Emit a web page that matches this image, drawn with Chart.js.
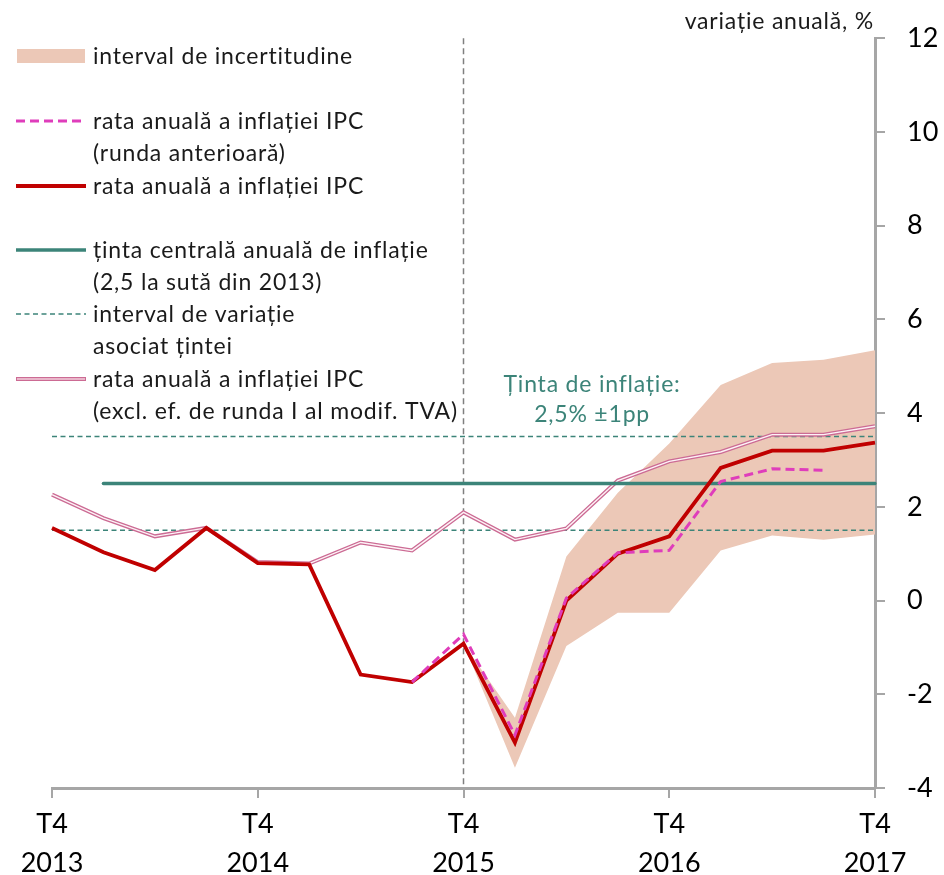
<!DOCTYPE html>
<html>
<head>
<meta charset="utf-8">
<script src="https://cdn.jsdelivr.net/npm/chart.js@4"></script>
<style>
  html, body { margin: 0; padding: 0; background: #fff; }
  #wrap { width: 944px; height: 875px; position: relative; }
</style>
</head>
<body>
<div id="wrap"><canvas id="inflationChart"></canvas></div>
<script>
const quarters = ['T4 2013', 'T1 2014', 'T2 2014', 'T3 2014', 'T4 2014', 'T1 2015', 'T2 2015', 'T3 2015',
    'T4 2015', 'T1 2016', 'T2 2016', 'T3 2016', 'T4 2016', 'T1 2017', 'T2 2017', 'T3 2017', 'T4 2017'];

const cpiRate = [1.55, 1.03, 0.65, 1.55, 0.80, 0.77, -1.58, -1.74, -0.92, -3.03, 0.0, 1.0, 1.37, 2.83, 3.2, 3.2, 3.37];
const cpiPrevRound = [null, null, null, null, null, null, null, -1.74, -0.72, -2.87, 0.05, 1.02, 1.07, 2.54, 2.81, 2.78, null];
const cpiExclVat = [2.26, 1.76, 1.37, 1.55, 0.82, 0.79, 1.24, 1.07, 1.88, 1.30, 1.54, 2.56, 2.97, 3.17, 3.54, 3.54, 3.72];
const bandHigh = [null, null, null, null, null, null, null, null, -0.92, -2.5, 0.94, 2.30, 3.35, 4.6, 5.07, 5.14, 5.34];
const bandLow = [null, null, null, null, null, null, null, null, -0.92, -3.57, -0.97, -0.26, -0.26, 1.07, 1.39, 1.30, 1.41];
const targetCentral = [null, 2.5, 2.5, 2.5, 2.5, 2.5, 2.5, 2.5, 2.5, 2.5, 2.5, 2.5, 2.5, 2.5, 2.5, 2.5, 2.5];
const targetUpper = [3.5, 3.5, 3.5, 3.5, 3.5, 3.5, 3.5, 3.5, 3.5, 3.5, 3.5, 3.5, 3.5, 3.5, 3.5, 3.5, 3.5];
const targetLower = [1.5, 1.5, 1.5, 1.5, 1.5, 1.5, 1.5, 1.5, 1.5, 1.5, 1.5, 1.5, 1.5, 1.5, 1.5, 1.5, 1.5];

const yTicks = [-4, -2, 0, 2, 4, 6, 8, 10, 12];
const forecastStart = 8;

const FONT = 'Lato, "Open Sans", sans-serif';
const BAND = '#ecc8b7';
const RED = '#c00000';
const MAGENTA = '#df3dbb';
const TEAL = '#3c8479';
const ROSE = '#cc6b94';
const AXIS = '#a6a6a6';

const base = { pointRadius: 0, pointHoverRadius: 0, tension: 0, spanGaps: false };

const data = {
    labels: quarters,
    datasets: [
        { ...base, label: 'band-high', data: bandHigh, borderWidth: 0, borderColor: BAND, backgroundColor: BAND, fill: '+1', order: 10 },
        { ...base, label: 'band-low', data: bandLow, borderWidth: 0, borderColor: BAND, fill: false, order: 10 },
        { ...base, label: 'target-upper', data: targetUpper, borderWidth: 1.6, borderColor: TEAL, borderDash: [5, 3.5], fill: false, order: 8 },
        { ...base, label: 'target-lower', data: targetLower, borderWidth: 1.6, borderColor: TEAL, borderDash: [5, 3.5], fill: false, order: 8 },
        { ...base, label: 'excl-outer', data: cpiExclVat, borderWidth: 4, borderColor: ROSE, fill: false, order: 7 },
        { ...base, label: 'excl-inner', data: cpiExclVat, borderWidth: 1.4, borderColor: '#fdf2f6', fill: false, order: 6 },
        { ...base, label: 'target', data: targetCentral, borderWidth: 3.5, borderColor: TEAL, borderCapStyle: 'round', fill: false, order: 5 },
        { ...base, label: 'cpi', data: cpiRate, borderWidth: 3.8, borderColor: RED, fill: false, order: 3 },
        { ...base, label: 'cpi-prev', data: cpiPrevRound, borderWidth: 3, borderColor: MAGENTA, borderDash: [9, 5], fill: false, order: 2 }
    ]
};

// legend, vertical line and free texts
const extras = {
    id: 'extras',
    beforeDatasetsDraw(chart) {
        const { ctx, scales: { x, y } } = chart;
        const px = x.getPixelForValue(forecastStart);
        ctx.save();
        ctx.strokeStyle = '#7f7f7f';
        ctx.lineWidth = 1.5;
        ctx.setLineDash([6, 4]);
        ctx.beginPath();
        ctx.moveTo(px, y.top);
        ctx.lineTo(px, y.bottom);
        ctx.stroke();
        ctx.restore();
    },
    afterDraw(chart) {
        const { ctx, scales: { x, y } } = chart;
        ctx.save();
        ctx.textBaseline = 'middle';
        ctx.letterSpacing = '0.8px';

        // unit label
        ctx.font = '23px ' + FONT;
        ctx.fillStyle = '#1a1a1a';
        ctx.textAlign = 'right';
        ctx.fillText('variație anuală, %', 874, 22);

        // target annotation
        ctx.fillStyle = TEAL;
        ctx.textAlign = 'center';
        ctx.fillText('Ținta de inflație:', x.getPixelForValue(10.5), y.getPixelForValue(4.6));
        ctx.fillText('2,5% ±1pp', x.getPixelForValue(10.5), y.getPixelForValue(3.97));

        // legend
        const sx0 = 16, sx1 = 86, tx = 93, lh = 32;
        const items = [
            { kind: 'box', y: 56, lines: ['interval de incertitudine'] },
            { kind: 'line', ds: 8, y: 121, lines: ['rata anuală a inflației IPC', '(runda anterioară)'] },
            { kind: 'line', ds: 7, y: 186, lines: ['rata anuală a inflației IPC'] },
            { kind: 'line', ds: 6, y: 250, lines: ['ținta centrală anuală de inflație', '(2,5 la sută din 2013)'] },
            { kind: 'line', ds: 2, y: 314, lines: ['interval de variație', 'asociat țintei'] },
            { kind: 'double', y: 379, lines: ['rata anuală a inflației IPC', '(excl. ef. de runda I al modif. TVA)'] }
        ];
        items.forEach(it => {
            if (it.kind === 'box') {
                ctx.fillStyle = BAND;
                ctx.fillRect(sx0 + 1, it.y - 7, sx1 - sx0 - 2, 14);
            } else if (it.kind === 'line') {
                const d = chart.data.datasets[it.ds];
                ctx.strokeStyle = d.borderColor;
                ctx.lineWidth = d.borderWidth;
                ctx.setLineDash(d.borderDash || []);
                ctx.beginPath();
                ctx.moveTo(sx0, it.y);
                ctx.lineTo(sx1, it.y);
                ctx.stroke();
                ctx.setLineDash([]);
            } else {
                ctx.strokeStyle = ROSE;
                ctx.lineWidth = 4;
                ctx.beginPath();
                ctx.moveTo(sx0, it.y);
                ctx.lineTo(sx1, it.y);
                ctx.stroke();
                ctx.strokeStyle = '#f3cfdc';
                ctx.lineWidth = 1.6;
                ctx.beginPath();
                ctx.moveTo(sx0 + 1, it.y);
                ctx.lineTo(sx1 - 1, it.y);
                ctx.stroke();
            }
            ctx.fillStyle = '#1a1a1a';
            ctx.textAlign = 'left';
            it.lines.forEach((t, k) => ctx.fillText(t, tx, it.y + 1 + k * lh));
        });
        ctx.restore();
    }
};

const config = {
    type: 'line',
    data: data,
    options: {
        responsive: true,
        maintainAspectRatio: false,
        animation: false,
        layout: { padding: { left: 52, top: 38, right: 0, bottom: 0 } },
        plugins: {
            legend: { display: false },
            tooltip: { enabled: false }
        },
        scales: {
            x: {
                type: 'category',
                offset: false,
                afterFit: (s) => { s.height = 87; },
                border: { color: AXIS, width: 3 },
                grid: {
                    drawOnChartArea: false,
                    tickLength: 10,
                    lineWidth: 2,
                    color: (c) => (c.index % 4 === 0 ? AXIS : 'rgba(0,0,0,0)')
                },
                ticks: {
                    autoSkip: false,
                    maxRotation: 0,
                    padding: 7,
                    color: '#000',
                    font: { family: FONT, size: 27, lineHeight: 1.44 },
                    callback: (v, i) => (i % 4 === 0 ? quarters[i].split(' ') : '')
                }
            },
            y: {
                position: 'right',
                min: yTicks[0],
                max: yTicks[yTicks.length - 1],
                afterFit: (s) => { s.width = 69; },
                afterBuildTicks: (s) => { s.ticks = yTicks.map(v => ({ value: v })); },
                border: { color: AXIS, width: 3 },
                grid: { drawOnChartArea: false, tickLength: 10, lineWidth: 2, color: AXIS },
                ticks: {
                    padding: 22,
                    color: '#000',
                    font: { family: FONT, size: 27 }
                }
            }
        }
    },
    plugins: [extras]
};

const ctx = document.getElementById('inflationChart').getContext('2d');
const inflationChart = new Chart(ctx, config);
</script>
</body>
</html>
